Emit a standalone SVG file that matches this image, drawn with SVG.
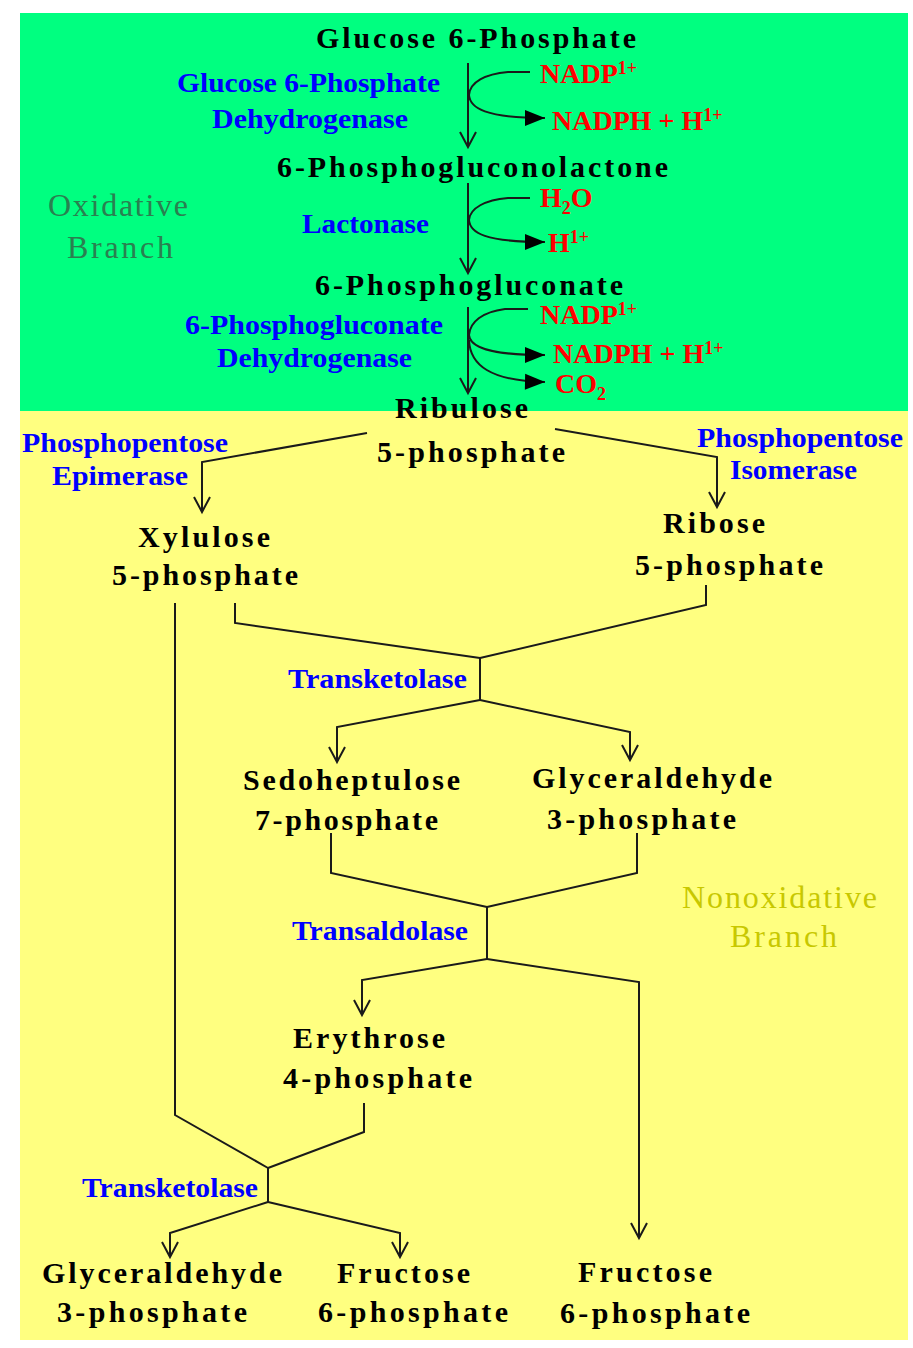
<svg xmlns="http://www.w3.org/2000/svg" width="913" height="1348" viewBox="0 0 913 1348">
<style>
text{font-family:"Liberation Serif","Times New Roman",serif;font-weight:bold}
.m{font-size:30px;fill:#000}
.e{font-size:27px;fill:#0000FF}
.r{font-size:28px;fill:#FF0000}
.sup{font-size:18px}
.ox{font-size:32px;font-weight:normal;fill:#2A8050}
.nox{font-size:32px;font-weight:normal;fill:#C8C800}
.c{fill:none;stroke:#1a1a1a;stroke-width:2}
.o{marker-end:url(#open)}
.f{marker-end:url(#fill)}
</style>
<defs>
<marker id="open" markerUnits="userSpaceOnUse" viewBox="-17 -10 19 20" markerWidth="19" markerHeight="20" refX="0" refY="0" orient="auto" overflow="visible">
<path d="M-15,-8 L0,0 L-15,8" fill="none" stroke="#1a1a1a" stroke-width="2"/>
</marker>
<marker id="fill" markerUnits="userSpaceOnUse" viewBox="-21 -9 22 18" markerWidth="22" markerHeight="18" refX="0" refY="0" orient="auto" overflow="visible">
<path d="M-20,-8 L0,0 L-20,8 Z" fill="#000"/>
</marker>
</defs>
<rect x="0" y="0" width="913" height="1348" fill="#fff"/>
<rect id="oxidative-bg" x="20" y="13" width="888" height="398" fill="#00FF80"/>
<rect id="nonoxidative-bg" x="20" y="411" width="888" height="929" fill="#FFFF80"/>

<g id="connectors">
<path class="c o" d="M468,63 L468,147"/>
<path class="c f" d="M530,72 L508,72 C485,74 470,82 469,95 C470,108 485,118 545,118"/>
<path class="c o" d="M468,183 L468,273"/>
<path class="c f" d="M530,198 L508,198 C485,200 470,208 469,220 C470,233 485,242 545,242"/>
<path class="c o" d="M468,307 L468,393"/>
<path class="c f" d="M528,309 L505,309 C482,312 470,322 469,335 C470,347 488,355 545,355"/>
<path class="c f" d="M469,340 C470,365 490,381 545,382"/>
<path class="c o" d="M367,433 L202,462 L202,512"/>
<path class="c o" d="M555,429 L717,457 L717,507"/>
<path class="c" d="M235,603 L235,623 L480,658"/>
<path class="c" d="M706,585 L706,605 L480,658"/>
<path class="c" d="M480,658 L480,700"/>
<path class="c o" d="M480,700 L337,727 L337,762"/>
<path class="c o" d="M480,700 L630,732 L630,760"/>
<path class="c" d="M331,833 L331,873 L487,907"/>
<path class="c" d="M637,833 L637,873 L487,907"/>
<path class="c" d="M487,907 L487,959"/>
<path class="c o" d="M487,959 L362,980 L362,1015"/>
<path class="c o" d="M487,959 L639,982 L639,1238"/>
<path class="c" d="M175,603 L175,1115 L268,1168"/>
<path class="c" d="M364,1103 L364,1132 L268,1168"/>
<path class="c" d="M268,1168 L268,1202"/>
<path class="c o" d="M268,1202 L170,1233 L170,1257"/>
<path class="c o" d="M268,1202 L400,1233 L400,1257"/>
</g>

<g id="branch-labels">
<text class="ox" x="48" y="216" textLength="140" lengthAdjust="spacing">Oxidative</text>
<text class="ox" x="67" y="258" textLength="106" lengthAdjust="spacing">Branch</text>
<text class="nox" x="682" y="908" textLength="195" lengthAdjust="spacing">Nonoxidative</text>
<text class="nox" x="730" y="947" textLength="107" lengthAdjust="spacing">Branch</text>
</g>

<g id="glucose-6-phosphate"><text class="m" x="316" y="48" textLength="320" lengthAdjust="spacing">Glucose 6-Phosphate</text></g>
<g id="phosphogluconolactone"><text class="m" x="277" y="177" textLength="391" lengthAdjust="spacing">6-Phosphogluconolactone</text></g>
<g id="phosphogluconate"><text class="m" x="315" y="295" textLength="308" lengthAdjust="spacing">6-Phosphogluconate</text></g>
<g id="ribulose-5-phosphate">
<text class="m" x="395" y="418" textLength="133" lengthAdjust="spacing">Ribulose</text>
<text class="m" x="377" y="462" textLength="188" lengthAdjust="spacing">5-phosphate</text>
</g>
<g id="xylulose-5-phosphate">
<text class="m" x="138" y="547" textLength="132" lengthAdjust="spacing">Xylulose</text>
<text class="m" x="112" y="585" textLength="186" lengthAdjust="spacing">5-phosphate</text>
</g>
<g id="ribose-5-phosphate">
<text class="m" x="663" y="533" textLength="102" lengthAdjust="spacing">Ribose</text>
<text class="m" x="635" y="575" textLength="188" lengthAdjust="spacing">5-phosphate</text>
</g>
<g id="sedoheptulose-7-phosphate">
<text class="m" x="243" y="790" textLength="217" lengthAdjust="spacing">Sedoheptulose</text>
<text class="m" x="255" y="830" textLength="183" lengthAdjust="spacing">7-phosphate</text>
</g>
<g id="glyceraldehyde-3-phosphate-1">
<text class="m" x="532" y="788" textLength="240" lengthAdjust="spacing">Glyceraldehyde</text>
<text class="m" x="547" y="829" textLength="189" lengthAdjust="spacing">3-phosphate</text>
</g>
<g id="erythrose-4-phosphate">
<text class="m" x="293" y="1048" textLength="152" lengthAdjust="spacing">Erythrose</text>
<text class="m" x="283" y="1088" textLength="189" lengthAdjust="spacing">4-phosphate</text>
</g>
<g id="glyceraldehyde-3-phosphate-2">
<text class="m" x="42" y="1283" textLength="240" lengthAdjust="spacing">Glyceraldehyde</text>
<text class="m" x="57" y="1322" textLength="190" lengthAdjust="spacing">3-phosphate</text>
</g>
<g id="fructose-6-phosphate-1">
<text class="m" x="337" y="1283" textLength="133" lengthAdjust="spacing">Fructose</text>
<text class="m" x="318" y="1322" textLength="190" lengthAdjust="spacing">6-phosphate</text>
</g>
<g id="fructose-6-phosphate-2">
<text class="m" x="578" y="1282" textLength="134" lengthAdjust="spacing">Fructose</text>
<text class="m" x="560" y="1323" textLength="190" lengthAdjust="spacing">6-phosphate</text>
</g>

<g id="enzymes">
<text class="e" x="177" y="92" textLength="263" lengthAdjust="spacingAndGlyphs">Glucose 6-Phosphate</text>
<text class="e" x="212" y="128" textLength="196" lengthAdjust="spacingAndGlyphs">Dehydrogenase</text>
<text class="e" x="302" y="233" textLength="127" lengthAdjust="spacingAndGlyphs">Lactonase</text>
<text class="e" x="185" y="334" textLength="258" lengthAdjust="spacingAndGlyphs">6-Phosphogluconate</text>
<text class="e" x="217" y="367" textLength="195" lengthAdjust="spacingAndGlyphs">Dehydrogenase</text>
<text class="e" x="22" y="452" textLength="206" lengthAdjust="spacingAndGlyphs">Phosphopentose</text>
<text class="e" x="52" y="485" textLength="136" lengthAdjust="spacingAndGlyphs">Epimerase</text>
<text class="e" x="697" y="447" textLength="206" lengthAdjust="spacingAndGlyphs">Phosphopentose</text>
<text class="e" x="730" y="479" textLength="127" lengthAdjust="spacingAndGlyphs">Isomerase</text>
<text class="e" x="288" y="688" textLength="179" lengthAdjust="spacingAndGlyphs">Transketolase</text>
<text class="e" x="292" y="940" textLength="176" lengthAdjust="spacingAndGlyphs">Transaldolase</text>
<text class="e" x="82" y="1197" textLength="176" lengthAdjust="spacingAndGlyphs">Transketolase</text>
</g>

<g id="cofactors">
<text class="r" x="540" y="83">NADP<tspan class="sup" dy="-9">1+</tspan></text>
<text class="r" x="552" y="130">NADPH + H<tspan class="sup" dy="-9">1+</tspan></text>
<text class="r" x="540" y="207">H<tspan class="sup" dy="7">2</tspan><tspan dy="-7">O</tspan></text>
<text class="r" x="548" y="252">H<tspan class="sup" dy="-9">1+</tspan></text>
<text class="r" x="540" y="324">NADP<tspan class="sup" dy="-9">1+</tspan></text>
<text class="r" x="553" y="363">NADPH + H<tspan class="sup" dy="-9">1+</tspan></text>
<text class="r" x="555" y="393">CO<tspan class="sup" dy="7">2</tspan></text>
</g>
</svg>
